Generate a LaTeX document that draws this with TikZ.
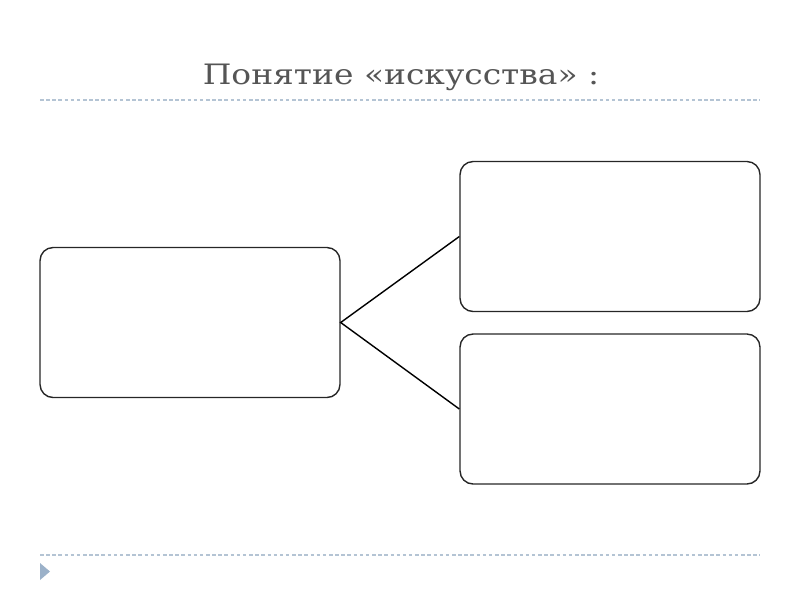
\documentclass[tikz,border=0pt]{standalone}
\usepackage{fontspec}
\setmainfont{DejaVu Serif}
\definecolor{titlegray}{HTML}{555555}
\definecolor{rulegray}{HTML}{B4C4D4}
\definecolor{markblue}{HTML}{9BB1C9}
\tikzset{card/.style={draw=black!85, line width=0.8pt, rounded corners=0.26cm,
    minimum width=6cm, minimum height=3cm, inner sep=0pt},
  rulerline/.style={rulegray, line width=0.6pt, dash pattern=on 2pt off 1.5pt}}
\begin{document}
\begin{tikzpicture}[x=0.02cm,y=-0.02cm]
    \useasboundingbox (0,0) rectangle (800,600);
    \node[titlegray, xscale=1.17, font=\fontsize{16}{19}\selectfont] (T) at (401,77) {Понятие «искусства» :};
    \coordinate (R1) at (40,100); \coordinate (R2) at (760,100);
    \coordinate (R3) at (40,555); \coordinate (R4) at (760,555);
    \draw[rulerline] (R1)--(R2); \draw[rulerline] (R3)--(R4);
    \fill[markblue] (40,563)--(50,571.5)--(40,580)--cycle;
    \node[card] (L) at (190,322.5) {};
    \node[card] (U) at (610,236.5) {};
    \node[card] (D) at (610,409) {};
    \draw[line width=0.8pt] (U.west)--(L.east)--(D.west);
  \end{tikzpicture}
\end{document}
